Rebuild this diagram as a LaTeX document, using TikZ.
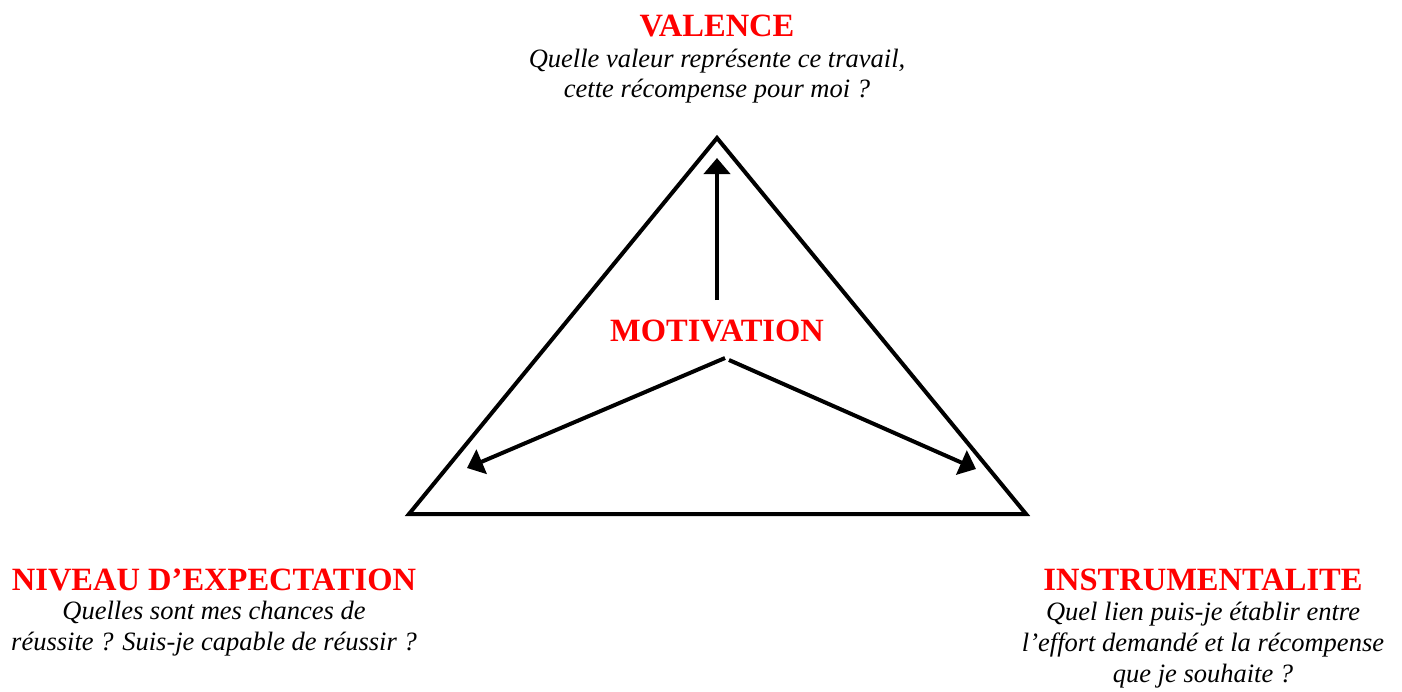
\documentclass[tikz,border=0pt]{standalone}
\usepackage{fontspec}
\setmainfont{Liberation Serif}
\usetikzlibrary{arrows.meta}
\definecolor{headred}{RGB}{255,0,0}
\tikzset{
  head/.style={font=\fontsize{32.5}{38}\selectfont\bfseries, text=headred, anchor=base, inner sep=0pt},
  question/.style={font=\fontsize{26.5}{31}\selectfont\itshape, anchor=base, inner sep=0pt},
  tri/.style={line width=4pt, line join=miter},
  conn/.style={line width=4pt, -{Triangle[length=16pt,width=26pt]}}
}
\begin{document}
\begin{tikzpicture}[x=1pt,y=-1pt]
\useasboundingbox (0,0) rectangle (1402,691);
% triangle
\coordinate (apex) at (717,138);
\coordinate (bl) at (409,514);
\coordinate (br) at (1026,514);
\draw[tri] (apex) -- (bl) -- (br) -- cycle;
% titles
\node[head] (valence) at (717,36) {VALENCE};
\node[question] (v1) at (717,67) {Quelle valeur représente ce travail,};
\node[question] (v2) at (717,97) {cette récompense pour moi ?};
\node[head] (motiv) at (717,341) {MOTIVATION};
\node[head] (niveau) at (214,590) {NIVEAU D’EXPECTATION};
\node[question] (n1) at (214,619) {Quelles sont mes chances de};
\node[question] (n2) at (214,650) {réussite ? Suis-je capable de réussir ?};
\node[head] (instr) at (1203,590) {INSTRUMENTALITE};
\node[question] (i1) at (1203,620) {Quel lien puis-je établir entre};
\node[question] (i2) at (1203,651) {l’effort demandé et la récompense};
\node[question] (i3) at (1203,682) {que je souhaite ?};
% arrows
\coordinate (upS) at (717,300);
\coordinate (upT) at (717,158);
\coordinate (lS) at (725,358);
\coordinate (lT) at (467,468);
\coordinate (rS) at (729,360);
\coordinate (rT) at (976,469);
\draw[conn] (upS) -- (upT);
\draw[conn] (lS) -- (lT);
\draw[conn] (rS) -- (rT);
\end{tikzpicture}
\end{document}
